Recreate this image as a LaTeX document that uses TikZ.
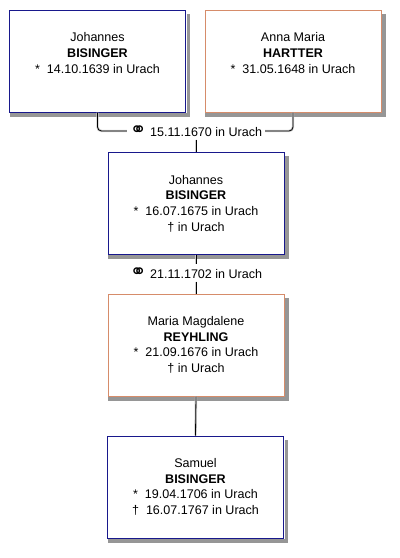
\documentclass[tikz,border=0pt]{standalone}
\usepackage{fontspec}
\setmainfont{Liberation Sans}
\newfontfamily\ringsfont{DejaVu Sans}
\usepackage{xcolor}
\usetikzlibrary{positioning,backgrounds}

\definecolor{manline}{RGB}{24,24,140}
\definecolor{womanline}{RGB}{214,140,106}
\definecolor{shadowgray}{RGB}{150,150,150}

\newcommand{\wed}{\raisebox{0.3pt}{\ringsfont\fontsize{15}{10}\selectfont ⚭}}

\begin{document}
\begin{tikzpicture}[
  x=0.75pt, y=-0.75pt,
  every node/.style={font=\fontsize{9.4}{11.8}\selectfont},
  person/.style={draw, fill=white, align=center, line width=0.75pt,
    minimum width=132pt, minimum height=76.5pt, inner sep=0pt},
  man/.style={person, draw=manline},
  woman/.style={person, draw=womanline},
  wedding/.style={inner sep=2pt, fill=white},
  boxshadow/.style={fill=shadowgray, draw=none},
  tie/.style={draw=black, line width=0.6pt, rounded corners=3pt,
    preaction={draw=gray!40, line width=1.8pt}}
]
\useasboundingbox (0,0) rectangle (400,558);

% parents
\node[man] (father) at (97.5,61) {Johannes\\\textbf{BISINGER}\\* \ 14.10.1639 in Urach\\~};
\node[woman] (mother) at (293,61) {Anna Maria\\\textbf{HARTTER}\\* \ 31.05.1648 in Urach\\~};
\node[wedding] (wed1) at (196,131) {\wed\ 15.11.1670 in Urach};

% son and his wife
\node[man] (son) at (196,203.5) {Johannes\\\textbf{BISINGER}\\* \ 16.07.1675 in Urach\\† in Urach};
\node[wedding] (wed2) at (196,273) {\wed\ 21.11.1702 in Urach};
\node[woman] (wife) at (196,345) {Maria Magdalene\\\textbf{REYHLING}\\* \ 21.09.1676 in Urach\\† in Urach};

\node[man] (grandson) at (195.5,487) {Samuel\\\textbf{BISINGER}\\* \ 19.04.1706 in Urach\\† \ 16.07.1767 in Urach};

% shadow strips right and below each box
\foreach \p in {father,mother,son,wife,grandson} {
  \fill[boxshadow] ([xshift=0.4pt,yshift=-3pt]\p.south west) rectangle ([xshift=3pt]\p.south east);
  \fill[boxshadow] ([xshift=0.4pt,yshift=-3pt]\p.north east) rectangle ([xshift=3pt,yshift=-3pt]\p.south east);
}

\draw[tie] (father.south) |- (wed1.west);
\draw[tie] (wed1.east) -| (mother.south);
\draw[tie] (wed1.south) -- (son.north);
\draw[tie] (son.south) -- (wed2.north);
\draw[tie] (wed2.south) -- (wife.north);
\draw[tie] (wife.south) -- (grandson.north);
\end{tikzpicture}
\end{document}
